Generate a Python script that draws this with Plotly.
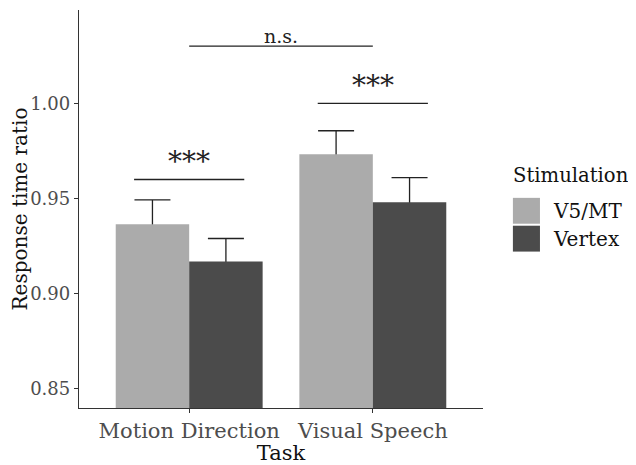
import plotly.graph_objects as go

tasks = ["Motion Direction", "Visual Speech"]
task_pos = [1, 2]
v5_mean = [0.9365, 0.9732]
v5_se = [0.0128, 0.0124]
vertex_mean = [0.9169, 0.9480]
vertex_se = [0.0121, 0.0130]
series_names = ["V5/MT", "Vertex"]
colors = ["#ababab", "#4b4b4b"]

# significance brackets: (x0, x1, y, label)
sig_x0 = [0.7, 1.0, 1.7]
sig_x1 = [1.3, 2.0, 2.3]
sig_y = [0.960, 1.030, 1.000]
sig_labels = ["***", "n.s.", "***"]

yticks = [0.85, 0.90, 0.95, 1.00]
ytick_text = ["0.85", "0.90", "0.95", "1.00"]

FONT = "DejaVu Serif"
YRANGE = [0.840, 1.049]
XRANGE = [0.4, 2.6]

fig = go.Figure()
series = [(series_names[0], v5_mean, v5_se, colors[0]),
          (series_names[1], vertex_mean, vertex_se, colors[1])]

# error bars (underneath) on base axes, drawn with transparent bars
for name, means, ses, col in series:
    fig.add_trace(go.Bar(
        x=task_pos, y=means, name=name + " se", base=0,
        marker=dict(color="rgba(0,0,0,0)", line=dict(width=0)),
        error_y=dict(type="data", array=ses, color="#222222", thickness=1.3, width=18),
        showlegend=False, hoverinfo="skip", xaxis="x", yaxis="y",
    ))

# actual bars on overlaying axes (drawn on top, hiding the lower half of error bars)
for name, means, ses, col in series:
    fig.add_trace(go.Bar(
        x=task_pos, y=means, name=name, base=0,
        marker=dict(color=col, line=dict(width=0)),
        showlegend=False, xaxis="x2", yaxis="y2",
    ))

for x0, x1, y, lab in zip(sig_x0, sig_x1, sig_y, sig_labels):
    fig.add_trace(go.Scatter(x=[x0, x1], y=[y, y], mode="lines",
                             line=dict(color="#222222", width=1.3),
                             showlegend=False, hoverinfo="skip", xaxis="x2", yaxis="y2"))
    fig.add_annotation(x=(x0 + x1) / 2, y=y, xref="x2", yref="y2", text=lab, showarrow=False,
                       yanchor="bottom", yshift=-1 if lab == "***" else -3,
                       font=dict(family=FONT, size=28 if lab == "***" else 19, color="#222222"))

# manual legend (ggplot-style)
LEG_FONT = dict(family=FONT, size=20, color="#111111")
fig.add_annotation(xref="paper", yref="paper", x=1.069, y=0.585, xanchor="left", yanchor="middle",
                   text="Stimulation", showarrow=False,
                   font=dict(family=FONT, size=19.6, color="#111111"))
key_y = [(0.463, 0.528), (0.393, 0.458)]
for (y0, y1), col, name in zip(key_y, colors, series_names):
    fig.add_shape(type="rect", xref="paper", yref="paper", x0=1.074, x1=1.141, y0=y0, y1=y1,
                  fillcolor=col, line=dict(width=0))
    fig.add_annotation(xref="paper", yref="paper", x=1.168, y=(y0 + y1) / 2, xanchor="left",
                       yanchor="middle", text=name, showarrow=False, font=LEG_FONT)

fig.update_layout(
    width=628, height=457,
    margin=dict(l=71, r=153, t=2, b=57),
    plot_bgcolor="white", paper_bgcolor="white",
    barmode="group", bargap=0.2, bargroupgap=0,
    font=dict(family=FONT, color="#4d4d4d"),
    xaxis=dict(range=XRANGE, tickvals=task_pos, ticktext=tasks,
               showline=True, linecolor="#333333", linewidth=1.3,
               ticks="outside", ticklen=4, tickcolor="#333333",
               showgrid=False, zeroline=False, automargin=False,
               tickfont=dict(family=FONT, size=21, color="#4d4d4d"),
               title=dict(text="Task", font=dict(family=FONT, size=21, color="#111111"), standoff=0)),
    yaxis=dict(range=YRANGE, tickvals=yticks, ticktext=ytick_text,
               showline=True, linecolor="#333333", linewidth=1.3,
               ticks="outside", ticklen=4, tickcolor="#333333",
               showgrid=False, zeroline=False, automargin=False,
               tickfont=dict(family=FONT, size=18, color="#4d4d4d"),
               title=dict(text="Response time ratio", font=dict(family=FONT, size=20, color="#111111"), standoff=6)),
    xaxis2=dict(range=XRANGE, overlaying="x", visible=False),
    yaxis2=dict(range=YRANGE, overlaying="y", visible=False),
)

fig.write_html("out.html")
